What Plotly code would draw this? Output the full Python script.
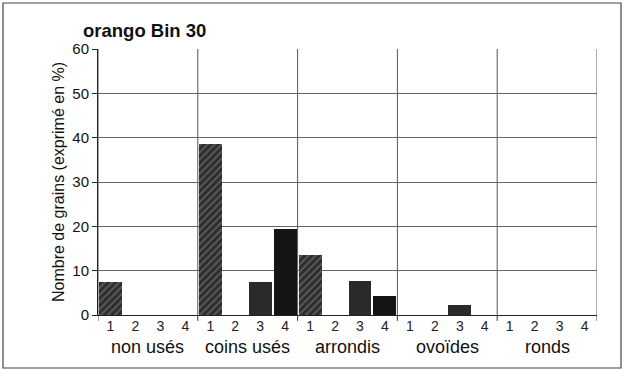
import plotly.graph_objects as go

# ---- data ----
groups = ["non usés", "coins usés", "arrondis", "ovoïdes", "ronds"]
classes = ["1", "2", "3", "4"]
class1 = [7.5, 38.5, 13.5, 0, 0]
class2 = [0, 0, 0, 0, 0]
class3 = [0, 7.5, 7.7, 2.3, 0]
class4 = [0, 19.4, 4.2, 0, 0]
series = [class1, class2, class3, class4]
title = "orango Bin 30"
y_title = "Nombre de grains (exprimé en %)"
y_ticks = [0, 10, 20, 30, 40, 50, 60]

W, H = 625, 374
L, R, T, B = 98, 28, 49, 59
pw, ph = W - L - R, H - T - B
FONT = "Liberation Sans, Arial"

ng, nc = len(groups), len(classes)

styles = [
    dict(color="#3a3a3a", pattern=dict(shape="/", fgcolor="#8a8a8a", bgcolor="#2e2e2e", size=5, solidity=0.35)),
    dict(color="#2a2a2a"),
    dict(color="#2a2a2a"),
    dict(color="#141414"),
]

fig = go.Figure()
for ci, vals in enumerate(series):
    xs = [gi * nc + ci for gi in range(ng)]
    st = styles[ci]
    marker = dict(color=st["color"], line=dict(width=0))
    if "pattern" in st:
        marker["pattern"] = st["pattern"]
    fig.add_trace(go.Bar(x=xs, y=vals, width=0.92, marker=marker,
                         name=classes[ci], showlegend=False))

# vertical group dividers (grid) + boundary tick marks
for gi in range(ng + 1):
    xb = gi * nc - 0.5
    fig.add_shape(type="line", xref="x", yref="y", x0=xb, x1=xb, y0=0, y1=60,
                  line=dict(color="#555555", width=1), layer="below")
    fig.add_shape(type="line", xref="x", yref="paper", x0=xb, x1=xb, y0=0, y1=-0.022,
                  line=dict(color="#333333", width=1))

# group labels
for gi, g in enumerate(groups):
    fig.add_annotation(x=gi * nc + 1.5, xref="x", y=-0.074, yref="paper", text=g,
                       showarrow=False, yanchor="top",
                       font=dict(family=FONT, size=18, color="#111111"))

# outer frame
fig.add_shape(type="rect", xref="paper", yref="paper",
              x0=(3 - L) / pw, x1=(621 - L) / pw, y0=(H - B - 368) / ph, y1=(H - B - 3) / ph,
              line=dict(color="#444444", width=1.2))

fig.update_layout(
    width=W, height=H,
    margin=dict(l=L, r=R, t=T, b=B, pad=0, autoexpand=False),
    paper_bgcolor="white", plot_bgcolor="white",
    bargap=0,
    title=dict(text="<b>" + title + "</b>", x=83 / W, xanchor="left", xref="container",
               y=1 - 31 / H, yanchor="middle", yref="container",
               font=dict(family=FONT, size=18.5, color="#111111")),
    xaxis=dict(range=[-0.5, ng * nc - 0.5], tickmode="array",
               tickvals=list(range(ng * nc)), ticktext=classes * ng,
               showgrid=False, zeroline=False, showline=True, linecolor="#222222", linewidth=1,
               ticks="", ticklabelstandoff=-2,
               tickfont=dict(family=FONT, size=14, color="#222222"),
               automargin=False, fixedrange=True),
    yaxis=dict(range=[0, 60], tickmode="array", tickvals=y_ticks,
               showgrid=True, gridcolor="#666666", gridwidth=1, zeroline=False,
               showline=True, linecolor="#222222", linewidth=1,
               ticks="outside", ticklen=5, tickcolor="#222222",
               tickfont=dict(family=FONT, size=15, color="#111111"),
               automargin=False,
               title=dict(text=y_title, standoff=3,
                          font=dict(family=FONT, size=16, color="#111111"))),
)

fig.write_html("out.html", config={"displayModeBar": False},
               post_script="document.body.style.margin='0';")
